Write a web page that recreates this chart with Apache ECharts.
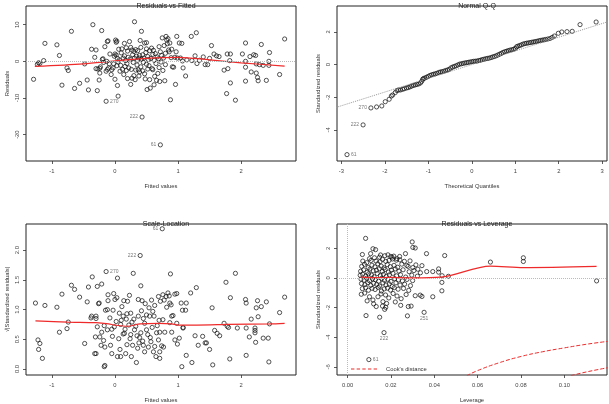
<!DOCTYPE html>
<html>
<head>
<meta charset="utf-8">
<title>lm diagnostics</title>
<script src="https://cdn.jsdelivr.net/npm/echarts@6/dist/echarts.min.js"></script>
<style>
html, body { margin: 0; padding: 0; background: #fff; }
#main { width: 609px; height: 404px; }
</style>
</head>
<body>
<div id="main"></div>
<script>
// ---- data ----

// Residuals vs Fitted : [fitted, residual]
var fitResid = [
  [-1.29,-4.9],[-1.23,-0.8],[-1.21,-0.4],[-1.19,-0.6],[-1.13,0.2],[-1.11,4.9],
  [-0.92,4.5],[-0.88,1.6],[-0.84,-6.5],[-0.76,-1.8],[-0.74,-2.5],[-0.69,8.2],[-0.64,-7.4],[-0.56,-6.0],
  [-0.48,-0.7],[-0.44,-5.1],[-0.42,-7.8],[-0.35,10.0],[-0.37,3.3],[-0.30,3.1],[-0.32,1.1],[-0.28,-8.0],
  [-0.25,-5.1],[-0.24,-1.9],[-0.21,8.4],[-0.30,-2.0],[-0.27,-2.1],[-0.23,-1.5],[-0.24,-3.2],[-0.20,0.5],
  [-0.19,0.7],[-0.18,-0.3],[-0.16,4.0],[-0.14,-10.9],[-0.12,5.4],[-0.13,0.0],[-0.14,-2.7],[-0.12,-2.2],
  [-0.11,5.6],[-0.10,-1.8],[-0.09,-0.7],[-0.08,2.0],[-0.06,-3.6],[-0.05,-2.3],[-0.03,-1.8],[-0.02,-0.7],
  [-0.01,1.4],[0.00,2.0],[0.00,-4.9],
  [0.01,5.8],[0.02,5.2],[0.03,5.5],[0.02,1.7],[0.04,0.8],[0.05,-0.2],[0.03,-1.2],[0.04,-6.6],[0.05,-9.5],
  [0.06,3.3],[0.07,0.4],[0.08,-2.7],[0.09,-1.1],[0.10,2.3],[0.11,3.4],[0.12,-2.2],[0.13,0.9],[0.14,-3.6],
  [0.15,4.9],[0.15,1.5],[0.16,-1.4],[0.17,0.2],[0.18,3.7],[0.18,-2.5],[0.19,-0.6],[0.20,-4.7],[0.20,2.8],
  [0.21,1.1],[0.22,-1.8],[0.23,5.4],[0.24,0.6],[0.25,3.8],[0.25,-6.3],[0.26,-2.2],[0.27,3.1],[0.27,-4.6],
  [0.28,1.8],[0.29,-0.3],[0.30,2.7],[0.30,-3.9],[0.31,10.8],[0.31,0.9],[0.32,-5.0],[0.33,3.2],[0.33,-2.4],
  [0.34,1.4],[0.35,-1.0],[0.36,0.3],[0.36,2.9],[0.37,-2.3],[0.38,0.9],[0.38,-4.0],[0.39,-2.9],[0.39,1.6],
  [0.40,5.7],[0.41,3.8],[0.41,-1.5],[0.42,8.2],[0.42,0.6],[0.43,-15.2],[0.44,1.8],[0.44,-2.6],[0.45,-0.3],
  [0.46,0.9],[0.47,5.0],[0.47,-3.4],[0.48,-4.8],[0.49,2.4],[0.50,5.1],[0.50,3.4],[0.50,-0.8],[0.51,-7.7],
  [0.52,1.3],[0.52,-2.1],[0.53,0.5],[0.54,-1.2],[0.55,-5.0],[0.55,2.9],[0.56,-7.3],[0.57,0.8],[0.58,3.6],
  [0.59,-2.0],[0.60,-2.3],[0.60,1.9],[0.61,3.0],[0.62,-6.4],[0.62,0.3],[0.63,-4.1],[0.64,2.1],[0.65,-0.6],
  [0.66,-5.2],[0.67,1.2],[0.68,-3.3],[0.69,0.7],[0.70,4.0],[0.70,-1.7],[0.71,-5.5],[0.72,2.6],[0.72,-22.8],
  [0.73,-0.2],[0.74,1.6],[0.75,6.4],[0.76,-2.5],[0.77,0.9],[0.78,4.3],[0.79,-5.3],[0.80,2.2],[0.80,-0.9],
  [0.81,6.8],[0.82,5.8],[0.83,4.8],[0.84,6.2],[0.85,3.1],[0.86,2.6],[0.87,5.0],[0.88,-10.5],[0.89,1.0],
  [0.90,3.3],[0.91,-1.5],[0.93,-1.6],[0.95,1.1],[0.96,-6.3],[0.97,2.6],[0.98,6.8],[0.99,0.9],
  [1.02,5.0],[1.04,0.9],[1.06,4.9],[1.07,0.1],[1.08,-1.8],[1.12,-4.0],[1.14,0.4],[1.21,6.8],[1.22,0.2],
  [1.27,1.5],[1.29,7.8],[1.30,-0.6],[1.34,0.3],[1.40,1.2],[1.43,-0.9],[1.47,-0.9],[1.50,0.8],[1.53,4.3],
  [1.57,2.0],[1.61,1.5],[1.65,1.3],[1.73,-2.4],[1.77,-8.8],[1.78,2.0],[1.79,-2.0],[1.82,0.2],[1.83,2.0],
  [1.83,-5.9],[1.91,-10.6],[2.02,2.0],[2.07,5.0],[2.07,0.0],[2.07,-1.6],[2.07,-5.4],[2.14,1.3],[2.16,-2.9],
  [2.20,1.8],[2.23,1.6],[2.24,-0.7],[2.24,-3.2],[2.26,-4.4],[2.27,-5.3],[2.29,-0.9],[2.32,4.6],[2.35,-1.1],
  [2.40,-5.2],[2.44,0.0],[2.44,-1.1],[2.45,2.4],[2.61,-3.6],[2.69,6.1]
];
var fitSmooth = [[-1.27,-1.4],[-0.5,-0.7],[0.0,0.1],[0.5,0.8],[1.0,1.1],[1.5,0.4],[2.0,-0.4],[2.69,-1.3]];
var fitIds = ['61', '222', '270'];
var fitIdPts = [[0.72,-22.8],[0.43,-15.2],[-0.14,-10.9]];

// Normal Q-Q : [theoretical quantile, standardized residual]
var qqPoints = [
  [-2.87,-5.51],[-2.50,-3.69],[-2.32,-2.65],[-2.19,-2.59],[-2.07,-2.53],[-1.99,-2.27],[-1.90,-2.12],
  [-1.85,-1.92],[-1.82,-1.86],[-1.76,-1.71],[-1.72,-1.59],[-1.68,-1.55],[-1.64,-1.55],[-1.59,-1.51],
  [-1.55,-1.47],[-1.50,-1.43],[-1.46,-1.40],[-1.42,-1.36],[-1.38,-1.31],[-1.34,-1.27],[-1.30,-1.24],
  [-1.26,-1.21],[-1.22,-1.18],[-1.18,-1.12],[-1.15,-1.02],[-1.13,-0.90],[-1.11,-0.85],[-1.08,-0.82],
  [-1.04,-0.77],[-1.00,-0.72],[-0.96,-0.66],[-0.92,-0.62],[-0.88,-0.59],[-0.84,-0.56],[-0.80,-0.53],
  [-0.76,-0.48],[-0.72,-0.45],[-0.68,-0.43],[-0.64,-0.40],[-0.60,-0.36],[-0.56,-0.33],[-0.52,-0.29],
  [-0.48,-0.20],[-0.44,-0.15],[-0.40,-0.11],[-0.36,-0.07],[-0.32,-0.02],[-0.28,0.03],[-0.24,0.05],
  [-0.20,0.08],[-0.16,0.10],[-0.12,0.12],[-0.08,0.14],[-0.04,0.16],[0.00,0.18],[0.04,0.20],[0.08,0.21],
  [0.12,0.22],[0.16,0.25],[0.20,0.27],[0.24,0.31],[0.28,0.33],[0.32,0.36],[0.36,0.38],[0.40,0.40],
  [0.44,0.43],[0.48,0.47],[0.52,0.50],[0.56,0.54],[0.60,0.59],[0.64,0.64],[0.68,0.69],[0.72,0.75],
  [0.76,0.79],[0.80,0.82],[0.84,0.86],[0.88,0.89],[0.92,0.91],[0.96,0.94],[1.00,0.99],[1.03,1.09],
  [1.06,1.13],[1.10,1.17],[1.14,1.21],[1.18,1.26],[1.22,1.29],[1.26,1.31],[1.30,1.33],[1.34,1.35],
  [1.38,1.37],[1.42,1.39],[1.46,1.41],[1.50,1.43],[1.54,1.46],[1.58,1.48],[1.62,1.50],[1.66,1.52],
  [1.70,1.54],[1.75,1.57],[1.80,1.60],[1.85,1.67],[1.90,1.75],[1.99,1.92],[2.07,2.00],[2.19,2.02],
  [2.31,2.04],[2.49,2.45],[2.86,2.61]
];
var qqRef = [[-3.3,-2.77],[3.3,2.77]];
var qqIds = ['61', '222', '270'];
var qqIdPts = [[-2.87,-5.51],[-2.50,-3.69],[-2.32,-2.65]];

// Scale-Location : [fitted, sqrt(|standardized residual|)]
var scaleLoc = [
  [-1.26,1.11],[-1.22,0.49],[-1.21,0.33],[-1.19,0.43],[-1.15,0.18],[-1.11,1.07],[-0.92,1.04],[-0.88,0.62],
  [-0.84,1.26],[-0.76,0.68],[-0.74,0.79],[-0.69,1.41],[-0.64,1.34],[-0.56,1.21],[-0.48,0.43],[-0.44,1.13],
  [-0.42,1.38],[-0.36,1.55],[-0.37,0.89],[-0.30,0.85],[-0.32,0.26],[-0.28,1.39],[-0.25,1.11],[-0.24,0.54],
  [-0.21,1.43],[-0.17,0.04],[-0.14,1.64],[-0.11,1.25],[-0.30,0.89],[-0.38,0.86],[-0.15,0.99],[-0.26,1.10],
  [-0.12,1.00],[-0.03,0.99],[-0.28,0.71],[-0.17,0.73],[-0.12,0.66],[-0.05,0.67],[-0.01,0.71],[-0.31,0.54],
  [-0.21,0.62],[-0.18,0.48],[-0.22,0.40],[-0.30,0.26],[-0.16,0.37],[-0.07,0.40],[-0.16,0.06],[-0.11,1.15],
  [-0.02,1.27],[0.00,1.17],[0.03,1.20],[0.04,1.53],[0.29,1.61],[0.40,1.91],[0.41,1.40],[0.23,1.24],
  [0.14,1.15],[0.20,1.14],[0.37,1.17],[0.43,1.15],[0.48,1.10],[0.07,0.94],[0.13,0.89],[0.19,0.93],
  [0.25,0.94],[0.30,0.84],[0.37,0.89],[0.45,0.85],[0.55,0.89],[0.62,0.89],[0.09,0.75],[0.16,0.67],
  [0.22,0.74],[0.31,0.66],[0.41,0.61],[0.50,0.66],[0.59,0.70],[0.67,0.73],[-0.05,0.26],[0.04,0.21],
  [0.09,0.21],[0.17,0.26],[0.26,0.21],[0.19,0.41],[0.28,0.40],[0.38,0.44],[0.45,0.40],[0.53,0.37],
  [0.63,0.38],[-0.04,0.55],[0.06,0.51],[0.13,0.59],[0.24,0.51],[0.35,0.56],[0.44,0.47],[0.56,0.53],
  [0.65,0.21],[0.61,0.29],[0.02,0.80],[0.10,0.82],[0.15,0.60],[0.27,0.79],[0.33,0.72],[0.36,0.35],
  [0.42,0.98],[0.47,0.77],[0.52,0.58],[0.54,1.03],[0.57,0.46],[0.60,0.97],[0.63,1.07],[0.66,0.61],
  [0.69,0.49],[0.70,0.82],[0.71,0.18],[0.69,1.22],[0.58,1.16],[0.47,0.29],[0.34,0.11],[0.25,0.58],
  [0.08,0.33],[-0.08,0.86],[0.11,1.05],[0.18,0.84],[0.39,0.53],[0.50,0.91],
  [0.75,2.36],[0.88,1.60],[0.76,1.25],[0.81,1.22],[0.84,1.28],[0.86,1.23],[0.95,1.26],[0.98,1.27],
  [0.72,1.14],[0.78,1.16],[0.87,1.11],[0.89,1.08],[0.82,1.04],[1.05,1.11],[1.12,0.99],[1.20,1.28],
  [1.29,1.37],[0.90,0.89],[0.92,0.90],[0.76,0.83],[0.87,0.78],[0.98,0.77],[1.08,0.70],[0.90,0.62],
  [0.79,0.62],[0.71,0.62],[0.95,0.49],[1.02,0.52],[0.99,0.42],[0.74,0.39],[0.77,0.37],[0.71,0.29],
  [1.13,0.23],[1.06,0.04],[1.22,0.11],[1.55,0.07],[1.50,0.33],[1.07,0.99],[1.13,1.11],[1.08,0.69],
  [1.27,0.56],[1.32,0.40],[1.39,0.55],[1.43,0.44],[1.45,0.44],[1.54,1.03],[1.58,0.65],[1.62,0.60],
  [1.66,0.56],[1.73,0.77],[1.76,1.46],[1.78,0.72],[1.80,0.70],[1.83,1.20],[1.82,0.17],[1.91,1.61],
  [1.94,0.69],[2.07,1.17],[2.08,1.11],[2.08,0.69],[2.08,0.23],[2.13,0.54],[2.16,0.84],[2.22,0.69],
  [2.22,0.65],[2.22,0.61],[2.23,0.45],[2.24,1.03],[2.26,1.15],[2.27,0.88],[2.32,1.05],[2.35,0.52],
  [2.40,1.13],[2.43,0.52],[2.44,0.12],[2.45,0.76],[2.61,0.95],[2.69,1.21]
];
var scaleSmooth = [[-1.26,0.81],[-0.75,0.79],[-0.3,0.78],[-0.1,0.76],[0.0,0.74],[0.2,0.72],[0.4,0.76],
  [0.7,0.77],[0.9,0.76],[1.0,0.74],[1.3,0.74],[1.8,0.75],[2.45,0.76],[2.69,0.77]];
var scaleIds = ['61', '222', '270'];
var scaleIdPts = [[0.75,2.36],[0.40,1.91],[-0.14,1.64]];

// Residuals vs Leverage : [leverage, standardized residual]
var levResid = [
  [0.0083,2.67],[0.0117,1.97],[0.0129,1.91],[0.0068,1.58],[0.0106,1.64],[0.0298,2.43],[0.0301,2.06],
  [0.0312,2.02],[0.0267,1.64],[0.0364,1.64],[0.0448,1.51],[0.0659,1.07],[0.0811,1.36],[0.0811,1.11],
  [0.1149,-0.20],[0.0343,0.83],[0.0365,0.43],[0.0393,0.43],[0.0420,0.61],[0.0420,0.39],[0.0436,0.15],
  [0.0465,0.11],[0.0435,-0.30],[0.0435,-0.87],[0.0393,-1.27],[0.0335,-1.16],[0.0343,-1.25],[0.0312,-1.20],
  [0.0293,-1.90],[0.0276,-2.56],[0.0353,-2.32],[0.0085,-2.54],[0.0148,-2.65],[0.0171,-2.12],[0.0161,-1.90],
  [0.0176,-1.98],[0.0168,-3.69],[0.0098,-5.51],[0.0280,-1.93],[0.0273,0.85],[0.0301,0.70],[0.0324,0.59],
  [0.0336,0.35],
  [0.0172,1.50],[0.0186,1.56],[0.0199,1.45],[0.0213,1.47],[0.0205,1.40],[0.0101,1.30],[0.0124,1.36],
  [0.0147,1.40],[0.0152,1.55],[0.0240,1.45],[0.0228,1.30],
  [0.0070,1.14],[0.0088,1.03],[0.0108,1.18],[0.0131,1.14],[0.0150,1.10],[0.0161,1.25],[0.0176,1.12],
  [0.0191,1.18],[0.0207,1.28],[0.0225,1.20],[0.0241,1.22],[0.0262,1.12],[0.0288,1.15],
  [0.0065,0.78],[0.0078,0.92],[0.0095,0.70],[0.0112,0.86],[0.0126,0.75],[0.0139,0.95],[0.0155,0.80],
  [0.0168,0.68],[0.0183,0.90],[0.0197,0.76],[0.0214,0.85],[0.0231,0.72],[0.0250,0.93],[0.0279,0.78],
  [0.0315,0.88],
  [0.0060,0.45],[0.0074,0.55],[0.0090,0.38],[0.0103,0.60],[0.0118,0.48],[0.0133,0.52],[0.0146,0.62],
  [0.0160,0.44],[0.0173,0.57],[0.0188,0.40],[0.0202,0.53],[0.0220,0.61],[0.0237,0.46],[0.0256,0.55],
  [0.0284,0.42],[0.0306,0.50],
  [0.0058,0.18],[0.0069,0.25],[0.0083,0.12],[0.0097,0.28],[0.0110,0.20],[0.0122,0.08],[0.0137,0.30],
  [0.0151,0.16],[0.0165,0.24],[0.0178,0.10],[0.0193,0.21],[0.0209,0.31],[0.0226,0.14],[0.0244,0.22],
  [0.0268,0.06],[0.0296,0.19],[0.0322,0.12],
  [0.0062,-0.08],[0.0076,-0.15],[0.0088,-0.02],[0.0101,-0.19],[0.0115,-0.06],[0.0128,-0.12],[0.0143,-0.22],
  [0.0157,-0.03],[0.0170,-0.16],[0.0185,-0.09],[0.0200,-0.24],[0.0217,-0.05],[0.0234,-0.14],[0.0253,-0.20],
  [0.0274,-0.10],[0.0300,-0.18],
  [0.0064,-0.38],[0.0080,-0.45],[0.0093,-0.32],[0.0107,-0.50],[0.0120,-0.36],[0.0134,-0.44],[0.0148,-0.55],
  [0.0163,-0.34],[0.0177,-0.47],[0.0192,-0.40],[0.0206,-0.58],[0.0223,-0.33],[0.0242,-0.48],[0.0263,-0.42],
  [0.0290,-0.52],
  [0.0068,-0.72],[0.0083,-0.66],[0.0096,-0.83],[0.0113,-0.70],[0.0127,-0.78],[0.0141,-0.64],[0.0156,-0.88],
  [0.0169,-0.74],[0.0184,-0.69],[0.0198,-0.82],[0.0215,-0.66],[0.0233,-0.76],[0.0258,-0.71],[0.0282,-0.84],
  [0.0063,-1.10],[0.0079,-1.02],[0.0101,-1.27],[0.0117,-1.49],[0.0140,-1.27],[0.0163,-1.60],[0.0132,-1.93],
  [0.0154,-1.08],[0.0175,-1.15],[0.0190,-1.35],[0.0210,-1.05],[0.0228,-1.22],[0.0247,-1.40],[0.0270,-1.12],
  [0.0180,-1.72],[0.0220,-1.62],[0.0245,-1.85],[0.0120,-1.75],[0.0090,-1.55]
];
var levSmooth = [[0.0060,0.05],[0.012,0.02],[0.02,0.04],[0.03,0.0],[0.043,0.05],[0.0659,0.80],[0.0811,0.70],[0.1149,0.78]];
var cookHalf = [[0.055,-6.6],[0.06,-6.25],[0.07,-5.72],[0.08,-5.3],[0.09,-4.98],[0.10,-4.72],[0.11,-4.48],[0.12,-4.28]];
var cookOne = [[0.103,-6.6],[0.11,-6.35],[0.12,-6.06]];
var levIds = ['61', '222', '251'];
var levIdPts = [[0.0098,-5.51],[0.0168,-3.69],[0.0353,-2.32]];

// ---- chart ----
var FONT = '"Liberation Sans", Arial, Helvetica, sans-serif';
var myChart = echarts.init(document.getElementById('main'), null, {renderer: 'canvas'});

function xAxis(grid, min, max, ticks, name, digits) {
    return {
        type: 'value', gridIndex: grid, min: min, max: max,
        name: name, nameLocation: 'middle', nameGap: 22,
        nameTextStyle: {fontSize: 5.8, color: '#333', fontFamily: FONT},
        axisLine: {show: false, onZero: false}, splitLine: {show: false},
        axisTick: {show: true, length: 3, customValues: ticks, lineStyle: {color: '#333', width: 0.8}},
        axisLabel: {customValues: ticks, margin: 7, fontSize: 5.8, color: '#444', fontFamily: FONT,
            formatter: function (v) { return digits ? v.toFixed(digits) : String(v); }}
    };
}
function yAxis(grid, min, max, ticks, name, digits) {
    return {
        type: 'value', gridIndex: grid, min: min, max: max,
        name: name, nameLocation: 'middle', nameGap: 16, nameRotate: 90,
        nameTextStyle: {fontSize: 5.8, color: '#333', fontFamily: FONT},
        axisLine: {show: false, onZero: false}, splitLine: {show: false},
        axisTick: {show: true, length: 3, customValues: ticks, lineStyle: {color: '#333', width: 0.8}},
        axisLabel: {customValues: ticks, margin: 6, rotate: 90, fontSize: 5.8, color: '#444', fontFamily: FONT,
            formatter: function (v) { return digits ? v.toFixed(digits) : String(v); }}
    };
}
function points(i, data) {
    return {
        type: 'scatter', xAxisIndex: i, yAxisIndex: i, data: data,
        symbol: 'circle', symbolSize: 4.2, silent: true,
        itemStyle: {color: 'rgba(0,0,0,0)', borderColor: '#111', borderWidth: 0.9}
    };
}
function redLine(i, data) {
    return {
        type: 'line', xAxisIndex: i, yAxisIndex: i, data: data, smooth: 0.3,
        showSymbol: false, silent: true, lineStyle: {color: '#ee2a2a', width: 1.2}
    };
}
function refLine(i, mark) {
    return {
        type: 'scatter', xAxisIndex: i, yAxisIndex: i, data: [], silent: true,
        markLine: {silent: true, symbol: 'none', label: {show: false},
            lineStyle: {color: '#bbb', type: 'dotted', width: 1}, data: mark}
    };
}
function idLabels(i, pts, ids, sides) {
    var d = [];
    for (var k = 0; k < pts.length; k++) {
        d.push({value: pts[k], name: ids[k], label: {position: sides[k]}});
    }
    return {
        type: 'scatter', xAxisIndex: i, yAxisIndex: i, data: d, silent: true,
        symbolSize: 4, z: 5,
        itemStyle: {color: 'rgba(0,0,0,0)', borderColor: 'rgba(0,0,0,0)'},
        labelLayout: {hideOverlap: false},
        label: {show: true, formatter: '{b}', distance: 1.5, fontSize: 5, color: '#555', fontFamily: FONT}
    };
}
function title(text, x, y) {
    return {text: text, left: x, top: y, textAlign: 'center',
        textStyle: {fontSize: 7, fontWeight: 'normal', color: '#222', fontFamily: FONT}};
}

var gridStyle = {show: true, borderColor: '#222', borderWidth: 1, backgroundColor: 'transparent'};
// dashed red stroke used as the legend key
var dashIcon = 'path://M0,0h3v1h-3z M5,0h3v1h-3z M10,0h3v1h-3z M15,0h3v1h-3z M20,0h3v1h-3z';

option = {
    animation: false,
    title: [
        title('Residuals vs Fitted', 161, -2),
        title('Normal Q-Q', 472, -2),
        title('Scale-Location', 161, 216),
        title('Residuals vs Leverage', 472, 216)
    ],
    grid: [
        Object.assign({left: 26, top: 6, width: 270, height: 155}, gridStyle),
        Object.assign({left: 337, top: 6, width: 270, height: 155}, gridStyle),
        Object.assign({left: 26, top: 224, width: 270, height: 155}, gridStyle),
        Object.assign({left: 337, top: 224, width: 270, height: 155}, gridStyle)
    ],
    xAxis: [
        xAxis(0, -1.41, 2.87, [-1, 0, 1, 2], 'Fitted values'),
        xAxis(1, -3.1, 3.11, [-3, -2, -1, 0, 1, 2, 3], 'Theoretical Quantiles'),
        xAxis(2, -1.41, 2.87, [-1, 0, 1, 2], 'Fitted values'),
        xAxis(3, -0.0049, 0.1197, [0, 0.02, 0.04, 0.06, 0.08, 0.1], 'Leverage', 2)
    ],
    yAxis: [
        yAxis(0, -27.2, 15.1, [-20, -10, 0, 10], 'Residuals'),
        yAxis(1, -5.9, 3.59, [-4, -2, 0, 2], 'Standardized residuals'),
        yAxis(2, -0.1, 2.44, [0, 0.5, 1, 1.5, 2], '\u221A|Standardized residuals|', 1),
        yAxis(3, -6.55, 3.64, [-6, -4, -2, 0, 2], 'Standardized residuals')
    ],
    legend: {
        left: 346, top: 361, itemWidth: 26, itemHeight: 1.2, itemGap: 4,
        data: [{name: "Cook's distance", icon: dashIcon}],
        textStyle: {fontSize: 5.8, color: '#333', fontFamily: FONT, padding: [0, 0, 0, 4]}
    },
    series: [
        refLine(0, [{yAxis: 0}]),
        points(0, fitResid),
        redLine(0, fitSmooth),
        idLabels(0, fitIdPts, fitIds, ['left', 'left', 'right']),

        {type: 'line', xAxisIndex: 1, yAxisIndex: 1, data: qqRef, showSymbol: false, silent: true,
            lineStyle: {color: '#999', type: 'dotted', width: 1}},
        points(1, qqPoints),
        idLabels(1, qqIdPts, qqIds, ['right', 'left', 'left']),

        points(2, scaleLoc),
        redLine(2, scaleSmooth),
        idLabels(2, scaleIdPts, scaleIds, ['left', 'left', 'right']),

        refLine(3, [{yAxis: 0}, {xAxis: 0}]),
        points(3, levResid),
        redLine(3, levSmooth),
        {name: "Cook's distance", type: 'line', xAxisIndex: 3, yAxisIndex: 3, data: cookHalf, smooth: true,
            symbol: 'none', silent: true, itemStyle: {color: '#ee2a2a'},
            lineStyle: {color: '#ee2a2a', type: 'dashed', width: 1}},
        {name: "Cook's distance", type: 'line', xAxisIndex: 3, yAxisIndex: 3, data: cookOne, smooth: true,
            symbol: 'none', silent: true, itemStyle: {color: '#ee2a2a'},
            lineStyle: {color: '#ee2a2a', type: 'dashed', width: 1}},
        idLabels(3, levIdPts, levIds, ['right', 'bottom', 'bottom'])
    ]
};

myChart.setOption(option);
</script>
</body>
</html>
